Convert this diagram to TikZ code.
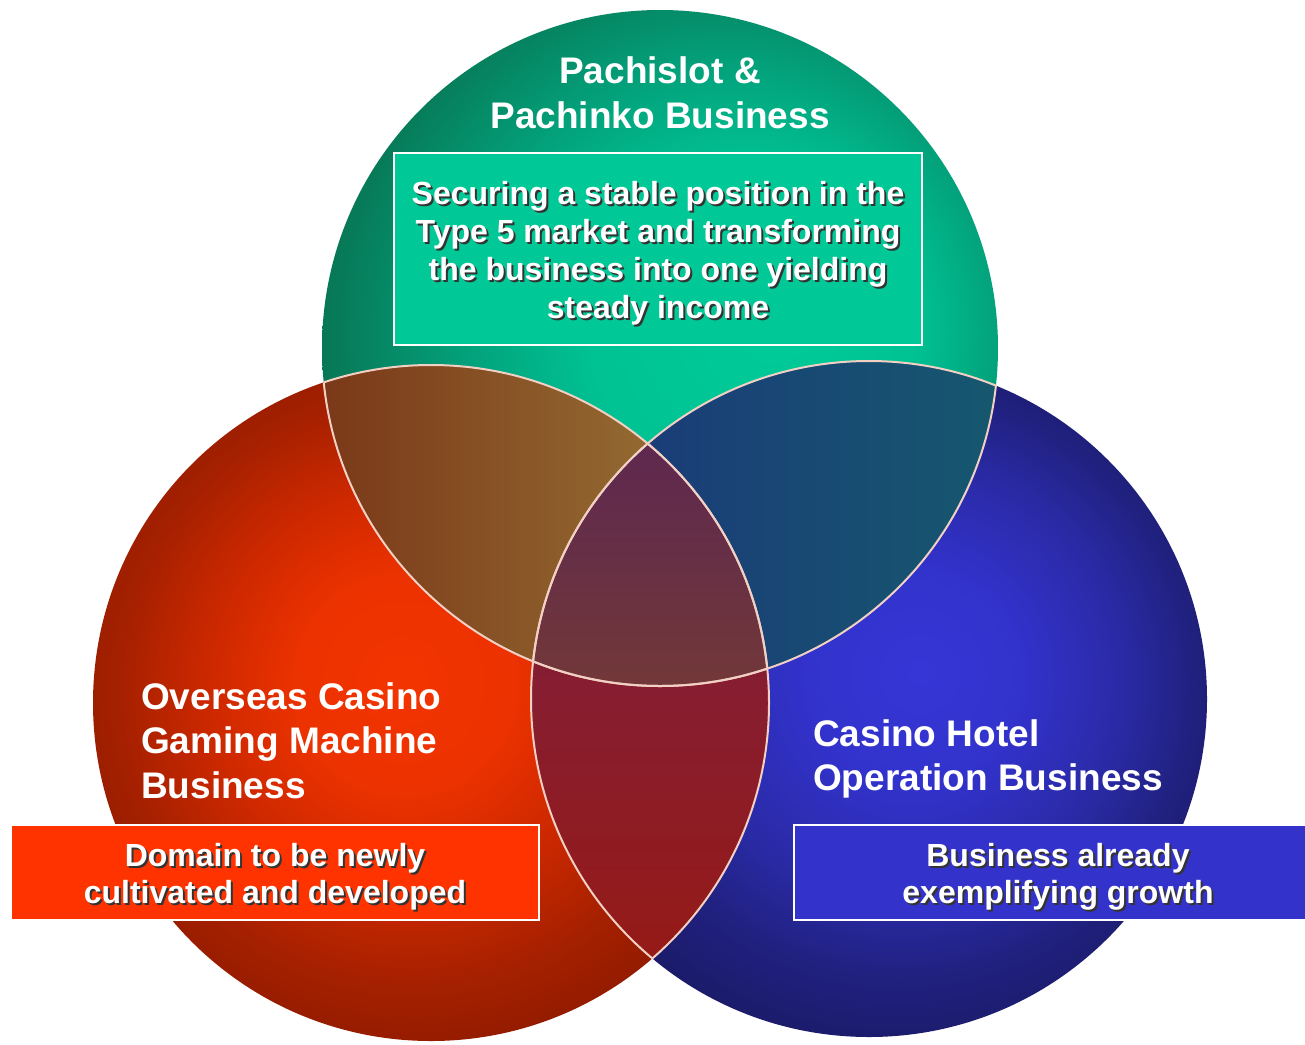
\documentclass[tikz,border=0pt]{standalone}
\usepackage{fontspec}
\setmainfont{Liberation Sans}
\definecolor{tealA}{HTML}{00CC99}
\definecolor{tealB}{HTML}{00C293}
\definecolor{tealC}{HTML}{03A07A}
\definecolor{tealD}{HTML}{077A58}
\definecolor{tealE}{HTML}{086A4C}
\definecolor{redA}{HTML}{F23400}
\definecolor{redB}{HTML}{EC3200}
\definecolor{redC}{HTML}{CC2800}
\definecolor{redD}{HTML}{A42000}
\definecolor{redE}{HTML}{8E1A00}
\definecolor{blueA}{HTML}{3636D6}
\definecolor{blueB}{HTML}{3232CC}
\definecolor{blueC}{HTML}{2A2AA6}
\definecolor{blueD}{HTML}{20207E}
\definecolor{blueE}{HTML}{1A1A66}
\definecolor{trL}{HTML}{7A3818}
\definecolor{trR}{HTML}{9C7C3A}
\definecolor{tbL}{HTML}{1A3C78}
\definecolor{tbR}{HTML}{16586E}
\definecolor{rbT}{HTML}{782048}
\definecolor{rbB}{HTML}{961A16}
\definecolor{allT}{HTML}{5E2850}
\definecolor{allB}{HTML}{723838}
\definecolor{seamc}{HTML}{F2D0C4}
\definecolor{tealbox}{HTML}{00C896}
\definecolor{redbox}{HTML}{FF3300}
\definecolor{bluebox}{HTML}{3333CC}
\pgfdeclareradialshading{tealsh}{\pgfpoint{8.9bp}{2bp}}{color(0bp)=(tealA); color(12bp)=(tealB); color(20bp)=(tealC); color(28bp)=(tealD); color(34bp)=(tealE); color(50bp)=(tealE)}
\pgfdeclareradialshading{redsh}{\pgfpoint{-2.3bp}{1.7bp}}{color(0bp)=(redA); color(8bp)=(redB); color(15bp)=(redC); color(22bp)=(redD); color(28bp)=(redE); color(50bp)=(redE)}
\pgfdeclareradialshading{bluesh}{\pgfpoint{4bp}{2bp}}{color(0bp)=(blueA); color(8bp)=(blueB); color(16bp)=(blueC); color(22bp)=(blueD); color(28bp)=(blueE); color(50bp)=(blueE)}
\begin{document}
\begin{tikzpicture}[x=1pt,y=-1pt,
  lbl/.style={text=white,font=\bfseries\fontsize{37}{44.5}\selectfont,inner sep=0pt},
  boxtxt/.style={text=white,font=\bfseries\fontsize{32}{38}\selectfont,align=center,inner sep=0pt},
  boxtxtb/.style={boxtxt,font=\bfseries\fontsize{32}{37}\selectfont},
  shadowtxt/.style={text=black!80},
  panel/.style={draw=white,line width=2pt,inner sep=0pt,minimum width=528pt},
  seam/.style={draw=seamc,line width=2pt}]
\useasboundingbox (0,0) rectangle (1305,1044);
\clip (0,0) rectangle (1305,1044);
\fill[white] (0,0) rectangle (1305,1044);
\coordinate (T) at (660,348);
\coordinate (R) at (431,703);
\coordinate (B) at (869,699);
% circles
\shade[shading=tealsh] (T) circle[radius=338];
\shade[shading=redsh] (R) circle[radius=338];
\shade[shading=bluesh] (B) circle[radius=338];
% overlaps
\begin{scope}
  \clip (T) circle[radius=338];
  \clip (R) circle[radius=338];
  \shade[left color=trL,right color=trR] (320,360) rectangle (772,700);
\end{scope}
\begin{scope}
  \clip (T) circle[radius=338];
  \clip (B) circle[radius=338];
  \shade[left color=tbL,right color=tbR] (640,355) rectangle (1002,700);
\end{scope}
\begin{scope}
  \clip (R) circle[radius=338];
  \clip (B) circle[radius=338];
  \shade[top color=rbT,bottom color=rbB] (525,440) rectangle (775,965);
\end{scope}
\begin{scope}
  \clip (T) circle[radius=338];
  \clip (R) circle[radius=338];
  \clip (B) circle[radius=338];
  \shade[top color=allT,bottom color=allB] (525,440) rectangle (775,690);
\end{scope}
% seams
\begin{scope}
  \clip (R) circle[radius=338];
  \draw[seam] (T) circle[radius=338];
  \draw[seam] (B) circle[radius=338];
\end{scope}
\begin{scope}
  \clip (T) circle[radius=338];
  \draw[seam] (R) circle[radius=338];
  \draw[seam] (B) circle[radius=338];
\end{scope}
\begin{scope}
  \clip (B) circle[radius=338];
  \draw[seam] (T) circle[radius=338];
  \draw[seam] (R) circle[radius=338];
\end{scope}
% titles
\node[lbl,align=center] (ttitle) at (660,93) {Pachislot \&\\Pachinko Business};
\node[lbl,align=left,anchor=west] (rtitle) at (141,740.5) {Overseas Casino\\Gaming Machine\\Business};
\node[lbl,align=left,anchor=west] (btitle) at (813,759) {Casino Hotel\\Operation Business};
% boxes
\node[panel,fill=tealbox,minimum height=192pt] (tbox) at (658,249) {};
\node[panel,fill=redbox,minimum height=95pt] (rbox) at (275,872.5) {};
\node[panel,fill=bluebox,minimum height=95pt] (bbox) at (1058,872.5) {};
% box texts with shadow
\node[boxtxt,shadowtxt] (tshadow) at (660,255.5) {Securing a stable position in the\\Type 5 market and transforming\\the business into one yielding\\steady income};
\node[boxtxt] (ttext) at (658,253.5) {Securing a stable position in the\\Type 5 market and transforming\\the business into one yielding\\steady income};
\node[boxtxtb,shadowtxt] (rshadow) at (277,879) {Domain to be newly\\cultivated and developed};
\node[boxtxtb] (rtext) at (275,877) {Domain to be newly\\cultivated and developed};
\node[boxtxtb,shadowtxt] (bshadow) at (1060,879) {Business already\\exemplifying growth};
\node[boxtxtb] (btext) at (1058,877) {Business already\\exemplifying growth};
\end{tikzpicture}
\end{document}
